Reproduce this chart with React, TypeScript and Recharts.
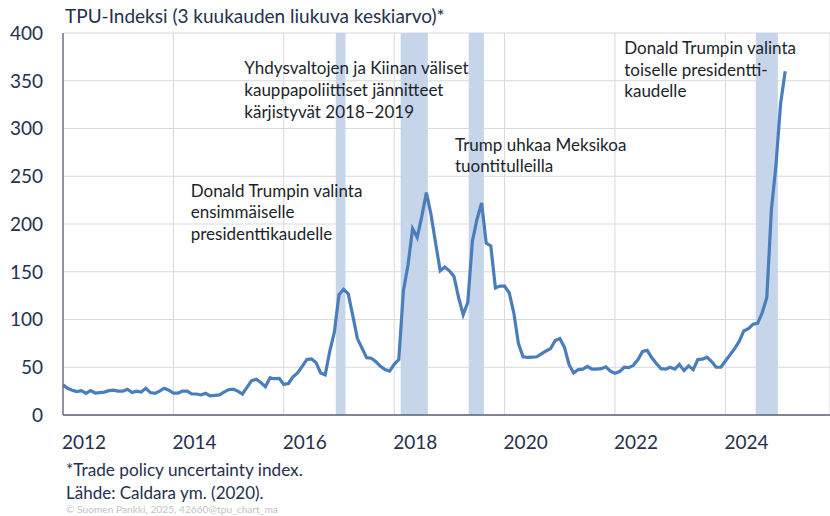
import React from 'react';
import { ComposedChart, Line, XAxis, YAxis, CartesianGrid, ReferenceArea } from 'recharts';

// TPU index, 3-month moving average, monthly from Jan 2012
const tpu2012 = [31.5, 28, 26, 24.5, 25.5, 22.7, 25.5, 23, 23.5, 24, 25.5, 26];
const tpu2013 = [25, 25, 27, 23.5, 25, 24, 28, 23.5, 22.7, 25, 28, 26];
const tpu2014 = [23, 23, 25, 25, 22, 22, 21, 22.7, 20, 20.5, 21, 24];
const tpu2015 = [26.5, 27, 25, 22, 29, 36, 37.4, 34, 29.7, 39, 38, 38.4];
const tpu2016 = [32, 33, 40, 44, 51, 58, 58.6, 55, 44, 42, 67, 87];
const tpu2017 = [126, 131.6, 127, 104, 80, 70, 60, 59.5, 56, 51, 47.5, 46];
const tpu2018 = [53, 58, 130, 157, 195, 186, 208, 233, 210, 180, 151, 155];
const tpu2019 = [151, 145, 123, 105, 118, 182, 205, 222, 180, 177, 133, 135];
const tpu2020 = [135, 128, 107, 75, 61, 60.4, 60.5, 61, 64, 67, 69.5, 78];
const tpu2021 = [80, 71, 53, 44, 47.5, 48, 51, 48, 48, 48.5, 50.5, 46];
const tpu2022 = [43.6, 45.5, 50, 49.6, 52, 58, 66.5, 67.7, 60, 54, 48.5, 48];
const tpu2023 = [50, 48, 53, 46.5, 51.5, 47.5, 58, 58.5, 60.5, 56, 50, 50];
const tpu2024 = [56.5, 63, 69.5, 77, 88, 90.5, 95, 96, 107, 123, 215, 262];
const tpu2025 = [326, 360];

const seriesByYear = [tpu2012, tpu2013, tpu2014, tpu2015, tpu2016, tpu2017, tpu2018, tpu2019, tpu2020, tpu2021, tpu2022, tpu2023, tpu2024, tpu2025];
const firstYear = 2012;

const xTickYears = [2012, 2014, 2016, 2018, 2020, 2022, 2024];
const yTicks = [0, 50, 100, 150, 200, 250, 300, 350, 400];

// shaded periods, in months counted from Jan 2012
const bandStarts = [59.3, 73.4, 88.2, 150.6];
const bandEnds = [61.4, 79.3, 91.5, 155.4];

const title = 'TPU-Indeksi (3 kuukauden liukuva keskiarvo)*';
const noteFirstTerm = ['Donald Trumpin valinta', 'ensimmäiselle', 'presidenttikaudelle'];
const noteChina = ['Yhdysvaltojen ja Kiinan väliset', 'kauppapoliittiset jännitteet', 'kärjistyvät 2018–2019'];
const noteMexico = ['Trump uhkaa Meksikoa', 'tuontitulleilla'];
const noteSecondTerm = ['Donald Trumpin valinta', 'toiselle presidentti-', 'kaudelle'];
const footnote1 = '*Trade policy uncertainty index.';
const footnote2 = 'Lähde: Caldara ym. (2020).';
const copyright = '© Suomen Pankki, 2025, 42660@tpu_chart_ma';

const data = seriesByYear.flatMap((vals, k) => vals.map((v, j) => ({ t: firstYear + k + j / 12, v })));

const FONT = 'Lato, "Open Sans", sans-serif';
const NAVY = '#24304e';
const INK = '#1c1f2c';

const W = 830;
const H = 516;
const xMax = firstYear + 166.74 / 12;

const YTick = (props: any) => {
  const { y, payload } = props;
  return (
    <text x={43} y={y} dy="0.36em" textAnchor="end" fontFamily={FONT} fontSize={19} fill={NAVY}>
      {payload.value}
    </text>
  );
};

const XTick = (props: any) => {
  const { x, payload } = props;
  return (
    <text x={x - 1} y={449} textAnchor="start" fontFamily={FONT} fontSize={19} fill={NAVY}>
      {payload.value}
    </text>
  );
};

const Block = ({ x, y0, lines, lh }: { x: number; y0: number; lines: string[]; lh: number }) => (
  <>
    {lines.map((s, i) => (
      <text key={i} x={x} y={y0 + i * lh} fontFamily={FONT} fontSize={17} fill={INK}>
        {s}
      </text>
    ))}
  </>
);

export default function App() {
  return (
    <div style={{ position: 'relative', width: W, height: H, background: '#fff' }}>
      <style>{'body{margin:0}'}</style>
      <ComposedChart width={W} height={H} data={data} margin={{ top: 33, right: 0, left: 0, bottom: 71 }}>
        <CartesianGrid stroke="#d9d9de" strokeWidth={1} />
        <XAxis
          type="number"
          dataKey="t"
          domain={[firstYear, xMax]}
          allowDataOverflow
          ticks={xTickYears}
          tickLine={false}
          axisLine={{ stroke: '#5d6379', strokeWidth: 1.3 }}
          height={30}
          tick={<XTick />}
        />
        <YAxis
          type="number"
          domain={[0, 400]}
          ticks={yTicks}
          width={63}
          tickLine={false}
          axisLine={{ stroke: '#5d6379', strokeWidth: 1.3 }}
          tick={<YTick />}
        />
        {bandStarts.map((s, i) => (
          <ReferenceArea
            key={i}
            x1={firstYear + s / 12}
            x2={firstYear + bandEnds[i] / 12}
            y1={0}
            y2={400}
            fill="#c6d5ea"
            fillOpacity={1}
            stroke="none"
            ifOverflow="hidden"
          />
        ))}
        <Line
          type="linear"
          dataKey="v"
          stroke="#4a7dbb"
          strokeWidth={3.2}
          dot={false}
          isAnimationActive={false}
        />
      </ComposedChart>
      <svg width={W} height={H} style={{ position: 'absolute', left: 0, top: 0, pointerEvents: 'none' }}>
        <text x={65} y={22.7} fontFamily={FONT} fontSize={19} fill={NAVY}>{title}</text>
        <Block x={244.3} y0={74.3} lines={noteChina} lh={21.8} />
        <Block x={455} y0={150.7} lines={noteMexico} lh={21.5} />
        <Block x={190.7} y0={196.7} lines={noteFirstTerm} lh={21.5} />
        <Block x={624.3} y0={54} lines={noteSecondTerm} lh={21.7} />
        <text x={66} y={476} fontFamily={FONT} fontSize={17.2} fill={NAVY}>{footnote1}</text>
        <text x={66} y={499} fontFamily={FONT} fontSize={17} fill={NAVY}>{footnote2}</text>
        <text x={66} y={513} fontFamily={FONT} fontSize={10.2} fill="#c4c4c4">{copyright}</text>
      </svg>
    </div>
  );
}
